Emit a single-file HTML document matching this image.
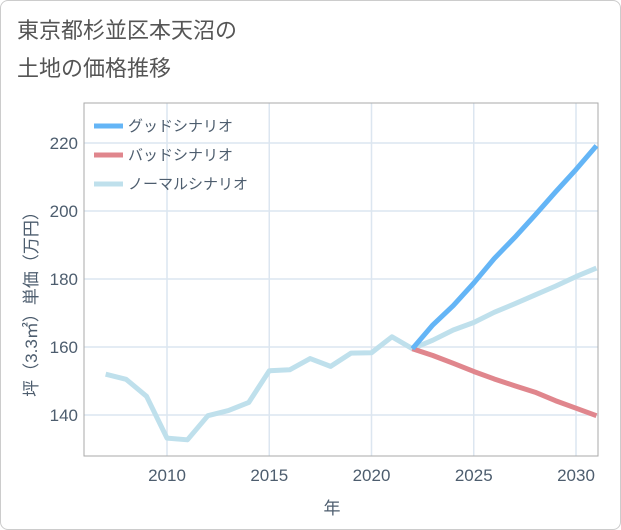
<!DOCTYPE html>
<html><head><meta charset="utf-8"><style>
body{margin:0;background:#fff;font-family:"Liberation Sans","Noto Sans CJK JP",sans-serif;}
#wrap{position:relative;width:619px;height:528px;border:1px solid #ccc;border-radius:8px;}
</style></head><body>
<div id="wrap">
<svg id="c" width="621" height="530" style="position:absolute;left:-1px;top:-1px">
<text x="17" y="38" font-size="22" fill="#555">東京都杉並区本天沼の</text>
<text x="17" y="76" font-size="22" fill="#555">土地の価格推移</text>
<g id="grid"></g>
<rect x="84" y="103" width="514" height="353" fill="none" stroke="#aaa" stroke-width="1"/>
<g id="series"></g>
<g id="axes"></g>
<text x="332" y="514" font-size="17" fill="#4d5d6e" text-anchor="middle">年</text>
<text transform="translate(37,300) rotate(-90)" font-size="17" fill="#4d5d6e" text-anchor="middle">坪（3.3㎡）単価（万円）</text>
<g id="legend"></g>
</svg>
</div>
<script>
const years=[2007,2008,2009,2010,2011,2012,2013,2014,2015,2016,2017,2018,2019,2020,2021,2022,2023,2024,2025,2026,2027,2028,2029,2030,2031];
const normalVals=[152,150.5,145.5,133.2,132.7,139.8,141.3,143.7,153,153.3,156.6,154.3,158.2,158.3,163,159.5,162,165,167.2,170.2,172.7,175.3,177.9,180.7,183.2];
const scenYears=[2022,2023,2024,2025,2026,2027,2028,2029,2030,2031];
const goodVals=[159.5,166.5,172.2,178.8,186,192.2,198.8,205.6,212.2,219.2];
const badVals=[159.5,157.5,155.2,152.8,150.6,148.6,146.7,144.2,142,139.8];
const xTicks=[2010,2015,2020,2025,2030];
const yTicks=[140,160,180,200,220];
const X=y=>167+(y-2010)*20.45;
const Y=v=>415-(v-140)*3.4;
const NS="http://www.w3.org/2000/svg";
function mk(t,a,p){const e=document.createElementNS(NS,t);for(const k in a)e.setAttribute(k,a[k]);p.appendChild(e);return e;}
const grid=document.getElementById('grid'),axes=document.getElementById('axes'),ser=document.getElementById('series'),leg=document.getElementById('legend');
xTicks.forEach(t=>{const l=mk('line',{x1:X(t),x2:X(t),y1:103,y2:456,stroke:'#dce6f0','stroke-width':1.5},grid);


const tx=mk('text',{x:X(t),y:481,'font-size':17,fill:'#4d5d6e','text-anchor':'middle'},axes);tx.textContent=t;

});
yTicks.forEach(t=>{const l=mk('line',{x1:84,x2:598,y1:Y(t),y2:Y(t),stroke:'#dce6f0','stroke-width':1.5},grid);


const tx=mk('text',{x:78,y:Y(t)+6,'font-size':17,fill:'#4d5d6e','text-anchor':'end'},axes);tx.textContent=t;

});
function line(xs,vs,col,name){const p=mk('polyline',{points:xs.map((x,i)=>X(x)+','+Y(vs[i])).join(' '),fill:'none',stroke:col,'stroke-width':5,'stroke-linejoin':'round'},ser);

}
line(years,normalVals,'#bfe0ec','normal-scenario-line');
line(scenYears,badVals,'#e0868d','bad-scenario-line');
line(scenYears,goodVals,'#64b5f6','good-scenario-line');
[['グッドシナリオ','#64b5f6'],['バッドシナリオ','#e0868d'],['ノーマルシナリオ','#bfe0ec']].forEach((d,i)=>{const y=126+i*29;
const g=mk('g',{},leg);


mk('line',{x1:94,x2:123,y1:y,y2:y,stroke:d[1],'stroke-width':5},g);
const t=mk('text',{x:128,y:y+5,'font-size':15,fill:'#4d5d6e'},g);t.textContent=d[0];});
</script>
</body></html>
